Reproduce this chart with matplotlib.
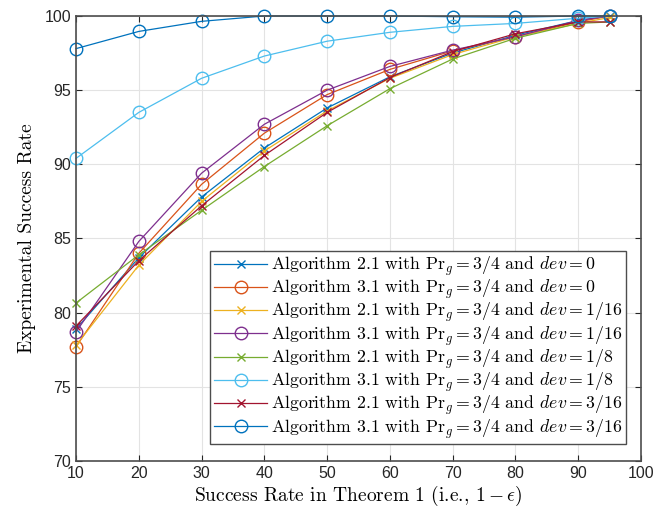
import matplotlib
matplotlib.use("Agg")
import matplotlib.pyplot as plt

plt.rcParams['mathtext.fontset'] = 'cm'
plt.rcParams['axes.unicode_minus'] = False

x = [10, 20, 30, 40, 50, 60, 70, 80, 90, 95]

alg21_dev0 = [78.9, 83.7, 87.8, 91.1, 93.8, 95.9, 97.5, 98.7, 99.7, 100.0]
alg31_dev0 = [77.7, 84.0, 88.65, 92.1, 94.7, 96.4, 97.65, 98.6, 99.6, 100.0]
alg21_dev1_16 = [77.8, 83.2, 87.5, 90.9, 93.6, 95.8, 97.4, 98.6, 99.5, 99.9]
alg31_dev1_16 = [78.7, 84.8, 89.4, 92.7, 95.0, 96.6, 97.7, 98.6, 99.7, 100.0]
alg21_dev1_8 = [80.65, 83.9, 86.9, 89.85, 92.6, 95.1, 97.1, 98.5, 99.5, 99.6]
alg31_dev1_8 = [90.4, 93.5, 95.8, 97.3, 98.3, 98.9, 99.3, 99.5, 99.85, 100.0]
alg21_dev3_16 = [79.1, 83.5, 87.2, 90.6, 93.5, 95.85, 97.6, 98.8, 99.6, 99.6]
alg31_dev3_16 = [97.8, 98.96, 99.64, 100.0, 100.0, 100.0, 99.95, 99.92, 100.0, 100.0]

series = [alg21_dev0, alg31_dev0, alg21_dev1_16, alg31_dev1_16,
          alg21_dev1_8, alg31_dev1_8, alg21_dev3_16, alg31_dev3_16]
algs = ['2.1', '3.1', '2.1', '3.1', '2.1', '3.1', '2.1', '3.1']
devs = ['0', '0', '1/16', '1/16', '1/8', '1/8', '3/16', '3/16']
labels = [r'Algorithm %s with $\mathrm{Pr}_g = 3/4$ and $dev = %s$' % (a, d)
          for a, d in zip(algs, devs)]

colors = ['#0072BD', '#D95319', '#EDB120', '#7E2F8E', '#77AC30', '#4DBEEE', '#A2142F', '#0072BD']
markers = ['x', 'o', 'x', 'o', 'x', 'o', 'x', 'o']

fig = plt.figure(figsize=(6.53, 5.16), dpi=100)
ax = fig.add_axes([0.1164, 0.1066, 0.8652, 0.8624])

for ys, lab, c, m in zip(series, labels, colors, markers):
    if m == 'o':
        ax.plot(x, ys, color=c, lw=0.9, marker='o', ms=9, mfc='none', mew=1.0, label=lab, clip_on=False)
    else:
        ax.plot(x, ys, color=c, lw=0.9, marker='x', ms=6, mew=1.0, label=lab, clip_on=False)

ax.set_xlim(10, 100)
ax.set_ylim(70, 100)
ax.set_xticks(range(10, 101, 10))
ax.set_yticks(range(70, 101, 5))
ax.grid(True, color='#e3e3e3', lw=0.8)
ax.set_axisbelow(True)
ax.tick_params(direction='in', length=4, labelsize=11.5, colors='#262626', top=True, right=True,
               labelcolor='#262626')
for s in ax.spines.values():
    s.set_color('#4d4d4d')
    s.set_linewidth(1.2)
for lbl in ax.get_xticklabels() + ax.get_yticklabels():
    lbl.set_family('Liberation Sans')

ax.set_xlabel(r'Success Rate in Theorem 1 (i.e., $1-\epsilon$)', fontsize=14, labelpad=2, family='cmr10')
ax.set_ylabel('Experimental Success Rate', fontsize=14, labelpad=6, family='cmr10')

leg = ax.legend(loc='lower right', bbox_to_anchor=(0.973, 0.038), frameon=True,
                prop={'family': 'cmr10', 'size': 12.8},
                fancybox=False, edgecolor='#4d4d4d', framealpha=1, borderpad=0.2,
                labelspacing=0.0, handlelength=3.0, handletextpad=0.2, borderaxespad=0)
leg.get_frame().set_linewidth(1.0)

fig.savefig('out.png', dpi=100)
